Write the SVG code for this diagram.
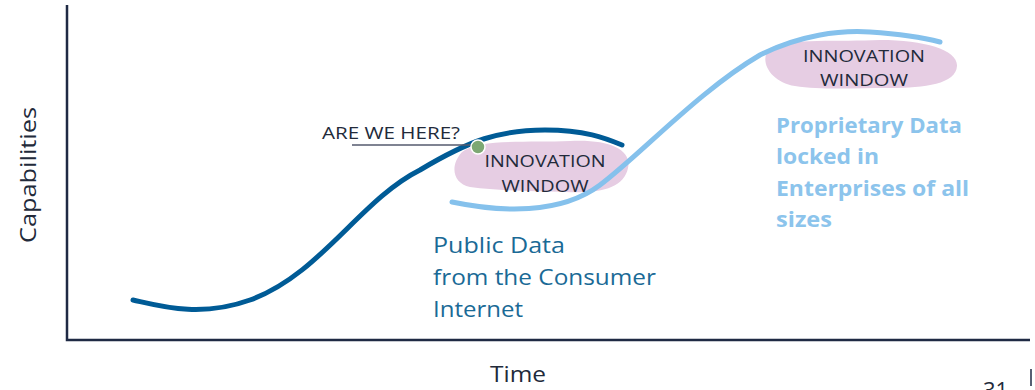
<svg xmlns="http://www.w3.org/2000/svg" width="1035" height="390" viewBox="0 0 1035 390">
<style>
text{font-family:"Open Sans","Liberation Sans",Arial,sans-serif}
.lbl{fill:#222a3a}
.win{font-size:17px;fill:#222a3a;text-anchor:middle}
.pub{font-size:22px;fill:#1a6a96}
.prop{font-size:22px;font-weight:bold;fill:#8cc4ec}
.blob{fill:#e6cde3}
</style>
<rect width="1035" height="390" fill="#ffffff"/>
<g id="axes">
<path d="M67,5 V340 H1030" fill="none" stroke="#1f2a44" stroke-width="2.5"/>
<text class="lbl" font-size="22" transform="translate(36,175) rotate(-90)" text-anchor="middle" textLength="136" lengthAdjust="spacingAndGlyphs">Capabilities</text>
<text class="lbl" font-size="22" x="518" y="382" text-anchor="middle" textLength="56" lengthAdjust="spacingAndGlyphs">Time</text>
<text class="lbl" font-size="22" x="983" y="398">31</text>
<line x1="1031" y1="369" x2="1031" y2="386" stroke="#1f2a44" stroke-width="1.5"/>
</g>
<g id="window1">
<path class="blob" d="M462,152 C480,138 530,143 570,141 C610,139 632,150 628,168 C624,188 600,194 565,192 C530,191 500,191 470,187 C452,183 450,165 462,152 Z"/>
</g>
<g id="window2">
<path class="blob" d="M770,48 C790,38 840,42 880,40 C925,40 958,50 957,66 C956,84 925,88 890,88 C855,88 820,90 795,86 C770,82 758,60 770,48 Z"/>
</g>
<g id="connectors">
<path d="M133,300 C160,306 200,318 250,300 C320,275 360,200 420,170 C470,140 500,130 545,130 C585,130 605,138 622,145" fill="none" stroke="#005b96" stroke-width="5" stroke-linecap="round"/>
<path d="M452,202 C500,212 560,215 600,185 C640,155 700,90 760,55 C800,35 840,30 870,32 C900,34 925,38 940,42" fill="none" stroke="#85c1ec" stroke-width="5" stroke-linecap="round"/>
<line x1="352" y1="145" x2="472" y2="145" stroke="#555a6e" stroke-width="1.5"/>
</g>
<g id="marker">
<circle cx="478" cy="147" r="7" fill="#7da874" stroke="#ffffff" stroke-width="1.5"/>
</g>
<g id="labels">
<text class="lbl" font-size="16" x="322" y="139" textLength="138" lengthAdjust="spacingAndGlyphs">ARE WE HERE?</text>
<text class="win" x="545" y="167" textLength="121" lengthAdjust="spacingAndGlyphs">INNOVATION</text>
<text class="win" x="545" y="192" textLength="87" lengthAdjust="spacingAndGlyphs">WINDOW</text>
<text class="win" x="864" y="62" textLength="122" lengthAdjust="spacingAndGlyphs">INNOVATION</text>
<text class="win" x="864" y="86" textLength="88" lengthAdjust="spacingAndGlyphs">WINDOW</text>
<text class="pub" x="433" y="253" textLength="132" lengthAdjust="spacingAndGlyphs">Public Data</text>
<text class="pub" x="433" y="285" textLength="223" lengthAdjust="spacingAndGlyphs">from the Consumer</text>
<text class="pub" x="433" y="317" textLength="90" lengthAdjust="spacingAndGlyphs">Internet</text>
<text class="prop" x="776" y="133" textLength="186" lengthAdjust="spacingAndGlyphs">Proprietary Data</text>
<text class="prop" x="776" y="164" textLength="103" lengthAdjust="spacingAndGlyphs">locked in</text>
<text class="prop" x="776" y="196" textLength="193" lengthAdjust="spacingAndGlyphs">Enterprises of all</text>
<text class="prop" x="776" y="227" textLength="56" lengthAdjust="spacingAndGlyphs">sizes</text>
</g>
</svg>
